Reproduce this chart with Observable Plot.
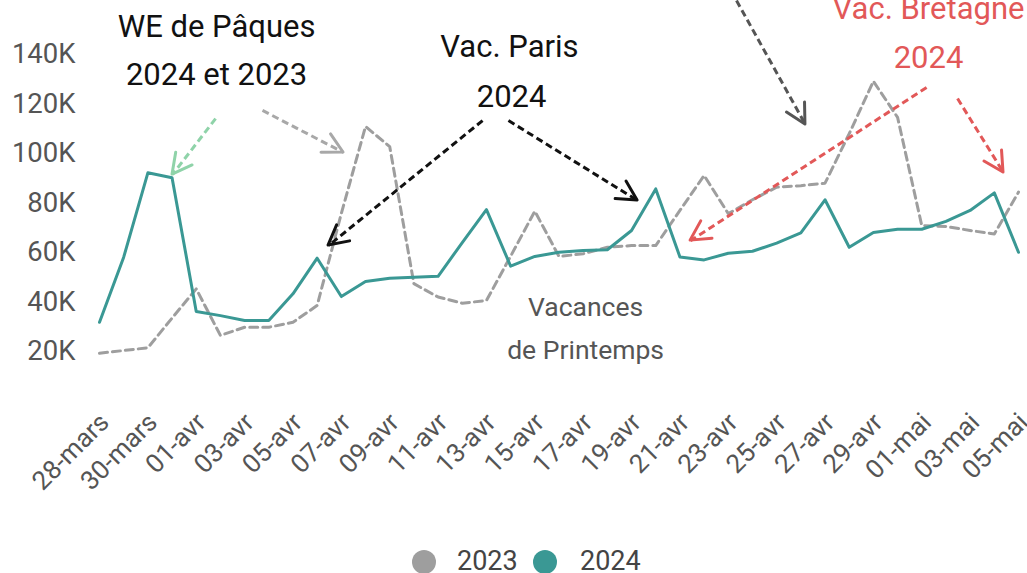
<!DOCTYPE html>
<html><head><meta charset="utf-8">
<script src="https://cdn.jsdelivr.net/npm/d3@7"></script>
<script src="https://cdn.jsdelivr.net/npm/@observablehq/plot@0.6"></script>
<style>
body{margin:0;background:#fff;font-family:Roboto,sans-serif;overflow:hidden}
#wrap{position:relative;width:1027px;height:573px;overflow:hidden}
#legend{position:absolute;left:0;top:547px;width:1027px;height:30px;font-family:Roboto,sans-serif;font-size:27px;color:#444}
.sw{position:absolute;top:3px;width:24px;height:24px;border-radius:50%}
.lt{position:absolute;top:-1px;line-height:30px}
</style></head>
<body><div id="wrap"><div id="chart"></div><div id="legend"></div></div>
<script>
// Daily labels (28 mars -> 05 mai)
const dates = ["28-mars","29-mars","30-mars","31-mars",
 "01-avr","02-avr","03-avr","04-avr","05-avr","06-avr","07-avr","08-avr","09-avr","10-avr",
 "11-avr","12-avr","13-avr","14-avr","15-avr","16-avr","17-avr","18-avr","19-avr","20-avr",
 "21-avr","22-avr","23-avr","24-avr","25-avr","26-avr","27-avr","28-avr","29-avr","30-avr",
 "01-mai","02-mai","03-mai","04-mai","05-mai"];
// values in thousands
const series2023 = [19.3,20.4,21.5,33.5,45.3,26.5,29.8,29.8,31.8,38.6,75.8,110.9,102.8,47.4,42.0,39.5,40.6,58.5,76.7,58.4,59.5,62.1,62.8,62.8,77.0,91.1,75.7,81.3,86.4,87.0,88.0,108.0,129.2,114.6,70.9,70.5,68.9,67.5,84.4];
const series2024 = [31.8,58.1,92.2,90.2,36.2,34.5,32.5,32.5,43.3,57.7,42.2,48.3,49.6,50.0,50.4,64.0,77.3,54.5,58.4,60.1,60.8,61.1,68.9,85.7,58.2,57.0,59.7,60.5,63.8,67.9,81.3,62.1,68.1,69.4,69.4,72.6,77.0,84.1,60.1];
const yTicks = [20,40,60,80,100,120,140];
const xTicks = d3.range(0, dates.length, 2);
const legendYears = ["2023","2024"];
const legendColors = ["#9e9e9e","#3a9894"];

// annotations (data units: day index, thousands)
const arrows = [
  {x1:4.80, y1:114.1, x2:3.02, y2:91.5, color:"#8fd3a9"},
  {x1:6.74, y1:117.4, x2:10.09, y2:100.4, color:"#a8a8a8"},
  {x1:15.84, y1:113.3, x2:9.47, y2:62.8, color:"#111111"},
  {x1:16.91, y1:113.3, x2:22.25, y2:81.0, color:"#111111"},
  {x1:26.34, y1:161.8, x2:29.19, y2:111.7, color:"#555555"},
  {x1:34.20, y1:126.7, x2:24.44, y2:64.8, color:"#e25858"},
  {x1:35.48, y1:122.2, x2:37.38, y2:92.3, color:"#e25858"}
];
const bigLabels = [
  {x:4.84, y:150.9, text:"WE de Pâques", color:"#111"},
  {x:4.84, y:131.5, text:"2024 et 2023", color:"#111"},
  {x:16.95, y:142.8, text:"Vac. Paris", color:"#111"},
  {x:17.04, y:122.6, text:"2024", color:"#111"},
  {x:34.28, y:158.4, text:"Vac. Bretagne", color:"#e25858"},
  {x:34.28, y:138.6, text:"2024", color:"#e25858"}
];
const smallLabels = [
  {x:20.1, y:37.8, text:"Vacances"},
  {x:20.1, y:20.4, text:"de Printemps"}
];

const rows2023 = dates.map((d,i)=>({i, v:series2023[i]}));
const rows2024 = dates.map((d,i)=>({i, v:series2024[i]}));

// chevron heads drawn with the plot's own scales
function arrowHeads(index, scales) {
  const g = d3.create("svg:g").attr("fill","none").attr("stroke-width",3)
    .attr("stroke-linecap","round").attr("stroke-linejoin","round");
  const L = 22, h = 28 * Math.PI / 180;
  for (const a of arrows) {
    const x1 = scales.x(a.x1), y1 = scales.y(a.y1), x2 = scales.x(a.x2), y2 = scales.y(a.y2);
    const ang = Math.atan2(y1 - y2, x1 - x2);
    const p = `M${x2 + L*Math.cos(ang+h)},${y2 + L*Math.sin(ang+h)}L${x2},${y2}L${x2 + L*Math.cos(ang-h)},${y2 + L*Math.sin(ang-h)}`;
    g.append("path").attr("d", p).attr("stroke", a.color);
  }
  return g.node();
}

const chart = Plot.plot({
  width:1027, height:540,
  marginLeft:99, marginRight:9, marginTop:54, marginBottom:139.5,
  style:{fontFamily:"Roboto, sans-serif", color:"#555", background:"transparent", overflow:"visible"},
  x:{type:"linear", domain:[0, dates.length-1]},
  y:{domain:[0,140]},
  color:{type:"identity"},
  marks:[
    Plot.axisY({ticks:yTicks, tickFormat:d=>d+"K", tickSize:0, tickPadding:24, fontSize:27.5, label:null}),
    Plot.axisX({ticks:xTicks, tickFormat:i=>dates[i], tickRotate:-45, tickSize:0, tickPadding:0, dx:5, dy:17, fontSize:26, label:null}),
    Plot.line(rows2023, {x:"i", y:"v", stroke:legendColors[0], strokeWidth:3, strokeDasharray:"8,5"}),
    Plot.line(rows2024, {x:"i", y:"v", stroke:legendColors[1], strokeWidth:3}),
    Plot.link(arrows, {x1:"x1", y1:"y1", x2:"x2", y2:"y2", stroke:"color", strokeWidth:3, strokeDasharray:"7,4"}),
    arrowHeads,
    Plot.text(bigLabels, {x:"x", y:"y", text:"text", fill:"color", fontSize:31, textAnchor:"middle", lineAnchor:"middle"}),
    Plot.text(smallLabels, {x:"x", y:"y", text:"text", fill:"#555", fontSize:26.5, textAnchor:"middle", lineAnchor:"middle"})
  ]
});
document.getElementById("chart").appendChild(chart);

// legend
const lg = document.getElementById("legend");
const pos = [[412,457],[533,580]];
legendYears.forEach((y,k)=>{
  const c=document.createElement("div"); c.className="sw"; c.style.left=pos[k][0]+"px"; c.style.background=legendColors[k]; lg.appendChild(c);
  const t=document.createElement("div"); t.className="lt"; t.style.left=pos[k][1]+"px"; t.textContent=y; lg.appendChild(t);
});
</script>
</body></html>
